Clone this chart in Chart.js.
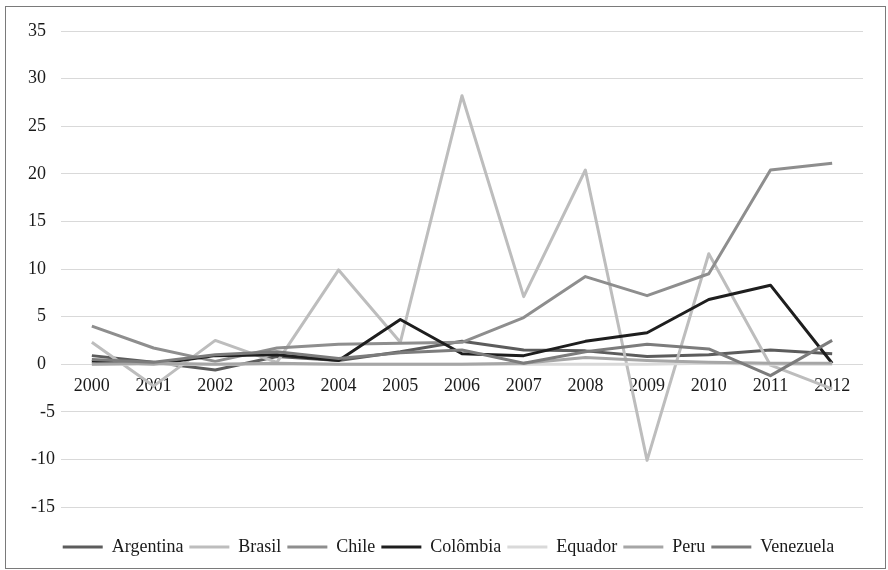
<!DOCTYPE html>
<html>
<head>
<meta charset="utf-8">
<script src="https://cdn.jsdelivr.net/npm/chart.js@4/dist/chart.umd.min.js"></script>
<style>
  html, body { margin: 0; padding: 0; background: #fff; }
  #wrap { position: relative; width: 888px; height: 570px; }
  #frame { position: absolute; left: 5px; top: 6px; width: 879px; height: 561px;
           border: 1px solid #7a7a7a; pointer-events: none; }
</style>
</head>
<body>
<div id="wrap">
  <canvas id="fdiChart" width="888" height="570"></canvas>
  <div id="frame"></div>
</div>
<script>
// categories
let years = ['2000','2001','2002','2003','2004','2005','2006','2007','2008','2009','2010','2011','2012'];

// series values
let argentina = [0.9, 0.2, -0.6, 0.8, 0.4, 1.3, 2.4, 1.5, 1.4, 0.8, 1.0, 1.5, 1.1];
let brasil    = [2.3, -2.3, 2.5, 0.2, 9.9, 2.3, 28.2, 7.1, 20.4, -10.1, 11.6, -0.1, -2.6];
let chile     = [4.0, 1.7, 0.3, 1.7, 2.1, 2.2, 2.3, 4.9, 9.2, 7.2, 9.5, 20.4, 21.1];
let colombia  = [0.3, 0.0, 0.9, 1.0, 0.4, 4.7, 1.1, 0.9, 2.4, 3.3, 6.8, 8.3, 0.1];
let equador   = [0.0, 0.0, 0.0, 0.0, 0.0, 0.0, 0.0, 0.0, 0.0, 0.0, 0.1, 0.0, 0.0];
let peru      = [0.0, 0.1, 0.0, 0.1, 0.0, 0.0, 0.0, 0.1, 0.7, 0.4, 0.2, 0.1, 0.1];
let venezuela = [0.5, 0.2, 1.0, 1.3, 0.6, 1.2, 1.5, 0.1, 1.3, 2.1, 1.6, -1.2, 2.5];

// y ticks
let yMin = -15;
let yMax = 35;
let yStep = 5;

let seriesNames  = ['Argentina', 'Brasil', 'Chile', 'Colômbia', 'Equador', 'Peru', 'Venezuela'];
let seriesData   = [argentina, brasil, chile, colombia, equador, peru, venezuela];
let seriesColors = ['#5c5c5c', '#bdbdbd', '#8e8e8e', '#1e1e1e', '#d9d9d9', '#a6a6a6', '#7c7c7c'];

let serif = "'Liberation Serif', 'DejaVu Serif', serif";

//build one line dataset per country
function buildDatasets(){
  let sets = [];
  for(let i = 0; i < seriesNames.length; i++){
    sets.push({
      label: seriesNames[i],
      data: seriesData[i],
      borderColor: seriesColors[i],
      backgroundColor: seriesColors[i],
      borderWidth: 3,
      pointRadius: 0,
      pointHoverRadius: 0,
      tension: 0,
      fill: false,
      borderJoinStyle: 'round',
      order: -i   // later series drawn on top, like the original
    });
  }
  return sets;
}

//nudge the legend a bit to the right so it sits centred like the original
let legendShift = {
  id: 'legendShift',
  afterLayout(chart){
    if(chart.legend){
      chart.legend.left += 17;
      chart.legend.right += 17;
    }
  }
};

let ctx = document.getElementById('fdiChart').getContext('2d');
let fdiChart = new Chart(ctx, {
  type: 'line',
  data: {
    labels: years,
    datasets: buildDatasets()
  },
  plugins: [legendShift],
  options: {
    responsive: false,
    animation: false,
    layout: {
      padding: { left: 0, right: 25, top: 31, bottom: 4 }
    },
    scales: {
      x: {
        type: 'category',
        offset: true,
        position: { y: 0 },
        grid: { display: false, drawTicks: false },
        border: { display: false },
        ticks: {
          color: '#1a1a1a',
          padding: 11,
          maxRotation: 0,
          autoSkip: false,
          font: { family: serif, size: 18 }
        }
      },
      y: {
        min: yMin,
        max: yMax,
        afterFit: function(scale){ scale.width = 61; },
        grid: { color: '#d9d9d9', lineWidth: 1, drawTicks: false },
        border: { display: false },
        ticks: {
          stepSize: yStep,
          padding: 6,
          color: '#1a1a1a',
          font: { family: serif, size: 18 },
          callback: function(value){ return value >= 0 ? value + '  ' : String(value); }
        }
      }
    },
    plugins: {
      tooltip: { enabled: false },
      legend: {
        position: 'bottom',
        title: { display: true, text: ' ', padding: { top: 13, bottom: 0 }, font: { size: 10 } },
        labels: {
          usePointStyle: true,
          pointStyle: 'line',
          pointStyleWidth: 40,
          padding: 6,
          color: '#1a1a1a',
          font: { family: serif, size: 18 },
          sort: function(a, b){ return a.datasetIndex - b.datasetIndex; }
        }
      }
    }
  }
});
</script>
</body>
</html>
